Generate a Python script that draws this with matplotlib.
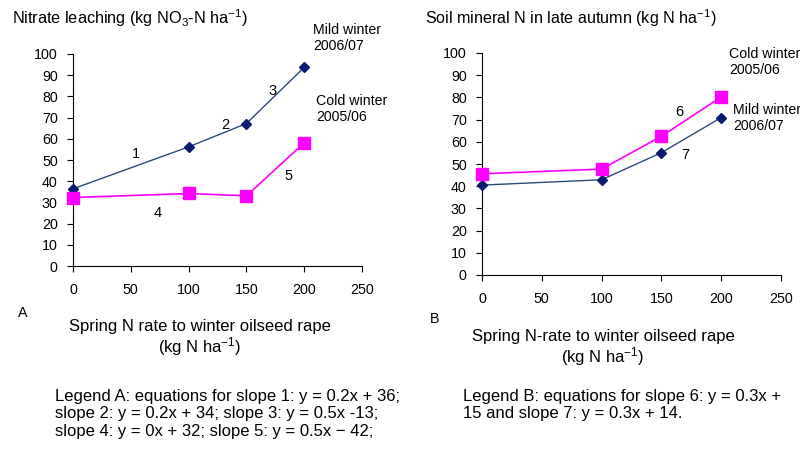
import matplotlib
matplotlib.use("Agg")
import matplotlib.pyplot as plt

plt.rcParams['font.family'] = ['Liberation Sans', 'DejaVu Sans']
plt.rcParams['mathtext.default'] = 'regular'

# spring N rate (kg N/ha)
n_rate = [0, 100, 150, 200]

# A: nitrate leaching
leach_mild = [36.4, 56.2, 67.2, 93.7]
leach_cold = [32.3, 34.2, 33.1, 58.1]

# B: soil mineral N in late autumn
smn_cold = [45.6, 47.7, 62.5, 80.2]
smn_mild = [40.5, 42.9, 55.1, 70.9]

x_ticks = [0, 50, 100, 150, 200, 250]
y_ticks = list(range(0, 101, 10))

mild_line = '#2b4a78'
mild_mark = '#0a1a6e'
cold_col = '#ff00ff'

W, H = 800, 451
fig = plt.figure(figsize=(8, 4.51), dpi=100)


def px(x, y):
    return x / W, 1 - y / H


def setup(ax):
    ax.set_xlim(0, 250)
    ax.set_ylim(0, 100)
    ax.set_xticks(x_ticks)
    ax.set_yticks(y_ticks)
    for s in ['top', 'right']:
        ax.spines[s].set_visible(False)
    for s in ['left', 'bottom']:
        ax.spines[s].set_linewidth(0.8)
    ax.tick_params(direction='out', length=4, width=0.8, labelsize=10.3)
    ax.tick_params(axis='x', pad=8)
    ax.tick_params(axis='y', pad=7)
    ax.patch.set_alpha(0)


def draw(ax, mild, cold):
    ax.plot(n_rate, mild, color=mild_line, lw=1, marker='D', ms=5.5,
            mfc=mild_mark, mec=mild_mark, clip_on=False, zorder=3)
    ax.plot(n_rate, cold, color=cold_col, lw=1.2, marker='s', ms=8.5,
            mfc=cold_col, mec=cold_col, clip_on=False, zorder=3)


axA = fig.add_axes([73 / W, 185 / H, 289 / W, 212 / H])
setup(axA)
draw(axA, leach_mild, leach_cold)

axB = fig.add_axes([482 / W, 176 / H, 299 / W, 222 / H])
setup(axB)
draw(axB, smn_mild, smn_cold)

# titles
fig.text(*px(12, 18), 'Nitrate leaching (kg NO$_3$-N ha$^{-1}$)', fontsize=11.7, va='center')
fig.text(*px(425, 18), 'Soil mineral N in late autumn (kg N ha$^{-1}$)', fontsize=11.6, va='center')

# series labels
lab = dict(fontsize=10.2, linespacing=1.25, va='center')
fig.text(*px(313, 38), 'Mild winter\n2006/07', **lab)
fig.text(*px(316, 109), 'Cold winter\n2005/06', **lab)
fig.text(*px(729, 62), 'Cold winter\n2005/06', **lab)
fig.text(*px(733, 118), 'Mild winter\n2006/07', **lab)

# slope numbers
num = dict(fontsize=10.5, ha='center', va='center')
for s, (x, y) in zip('1234567', [(136, 154), (225, 125), (273, 91), (158, 213),
                                 (289, 176), (679, 112), (685, 155)]):
    fig.text(*px(x, y), s, **num)

# panel letters and axis titles
fig.text(*px(23, 313), 'A', fontsize=10.3, va='center', ha='center')
fig.text(*px(435, 319), 'B', fontsize=10.3, va='center', ha='center')
fig.text(*px(200, 327), 'Spring N rate to winter oilseed rape', fontsize=12,
         ha='center', va='center')
fig.text(*px(200, 347), '(kg N ha$^{-1}$)', fontsize=12, ha='center', va='center')
fig.text(*px(603, 337), 'Spring N-rate to winter oilseed rape', fontsize=12,
         ha='center', va='center')
fig.text(*px(603, 357), '(kg N ha$^{-1}$)', fontsize=12, ha='center', va='center')

# equations
fig.text(*px(55, 389), 'Legend A: equations for slope 1: y = 0.2x + 36;\n'
         'slope 2: y = 0.2x + 34; slope 3: y = 0.5x -13;\n'
         'slope 4: y = 0x + 32; slope 5: y = 0.5x \u2212 42;',
         fontsize=12, va='top', linespacing=1.2)
fig.text(*px(463, 389), 'Legend B: equations for slope 6: y = 0.3x +\n'
         '15 and slope 7: y = 0.3x + 14.',
         fontsize=12, va='top', linespacing=1.2)

fig.savefig('out.png', dpi=100)
